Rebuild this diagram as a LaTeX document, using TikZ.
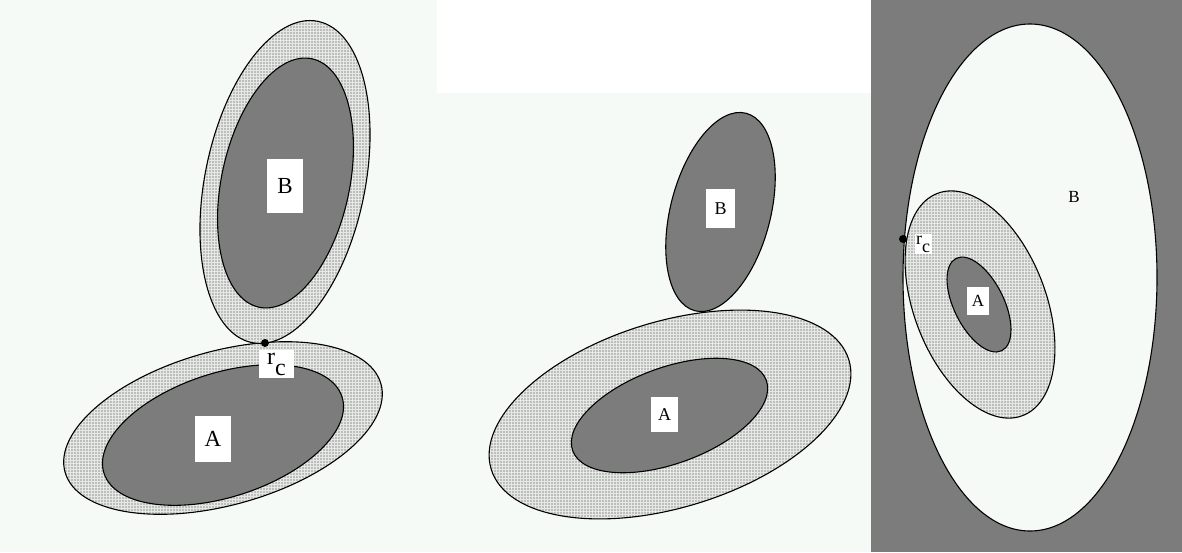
\documentclass[tikz,border=0pt]{standalone}
\usepackage{fontspec}
\setmainfont{Liberation Serif}
\usetikzlibrary{patterns.meta}
\definecolor{bgc}{HTML}{F6FAF7}
\definecolor{darkc}{HTML}{7C7C7C}
\definecolor{dotbg}{HTML}{E6E8E6}
\tikzset{
  darkfill/.style={fill=darkc, draw=black, line width=1.1pt},
  dotfill/.style={preaction={fill=dotbg}, pattern={Dots[distance=3pt, radius=0.6pt]}, pattern color=black!80, draw=black, line width=1.1pt},
  holefill/.style={fill=bgc, draw=black, line width=1.1pt},
  lab/.style={fill=white, inner sep=0pt, text=black},
  contact/.style={circle, fill=black, inner sep=0pt, minimum size=8pt},
}
\newcommand{\bigfont}{\fontsize{23}{23}\selectfont}
\newcommand{\midfont}{\fontsize{18}{18}\selectfont}
\newcommand{\smallfont}{\fontsize{17}{17}\selectfont}
\begin{document}
\begin{tikzpicture}[x=1pt,y=-1pt]
\useasboundingbox (0,0) rectangle (1182,552);
\fill[bgc] (0,0) rectangle (1182,552);
% ---------- panel 1 ----------
\draw[dotfill, rotate around={15.6:(223,428)}] (223,428) ellipse [x radius=164, y radius=77];
\draw[darkfill, rotate around={17.8:(223,435)}] (223,435) ellipse [x radius=125, y radius=62];
\draw[dotfill, rotate around={78.4:(285,182)}] (285,182) ellipse [x radius=164, y radius=80];
\draw[darkfill, rotate around={78:(285.5,183)}] (285.5,183) ellipse [x radius=127, y radius=64];
\node[lab, minimum width=36pt, minimum height=54pt, font=\bigfont] (B1) at (285,186) {B};
\node[lab, minimum width=36pt, minimum height=46pt, font=\bigfont] (A1) at (213,439) {A};
\node[lab, minimum width=35pt, minimum height=28pt, font=\fontsize{24}{24}\selectfont] (rc1) at (276.5,364) {r\raisebox{-11pt}{c}};
\node[contact] (c1) at (265,343) {};
% ---------- panel 2 ----------
\fill[white] (437,0) rectangle (871,93);
\draw[dotfill, rotate around={17:(670,414.5)}] (670,414.5) ellipse [x radius=187, y radius=93];
\draw[darkfill, rotate around={20:(669.5,415.5)}] (669.5,415.5) ellipse [x radius=103, y radius=48];
\draw[darkfill, rotate around={75.5:(720.5,212)}] (720.5,212) ellipse [x radius=102, y radius=50];
\node[lab, minimum width=29pt, minimum height=39pt, font=\midfont] (B2) at (720.5,208.5) {B};
\node[lab, minimum width=27pt, minimum height=35pt, font=\midfont] (A2) at (664.5,414.5) {A};
% ---------- panel 3 ----------
\fill[darkc] (871,0) rectangle (1182,552);
\draw[holefill] (1030,277.5) ellipse [x radius=127, y radius=253.5];
\draw[dotfill, rotate around={111:(980,304.5)}] (980,304.5) ellipse [x radius=119, y radius=66];
\draw[darkfill, rotate around={116.3:(979,304.5)}] (979,304.5) ellipse [x radius=51.5, y radius=25];
\node[lab, minimum width=22pt, minimum height=28pt, font=\smallfont] (A3) at (978,301) {A};
\node[inner sep=0pt, font=\smallfont] (B3) at (1074,197) {B};
\node[lab, inner sep=1.5pt, font=\fontsize{18}{18}\selectfont] (rc3) at (923,244) {r\raisebox{-8pt}{c}};
\node[contact] (c3) at (903,239) {};
\end{tikzpicture}
\end{document}
